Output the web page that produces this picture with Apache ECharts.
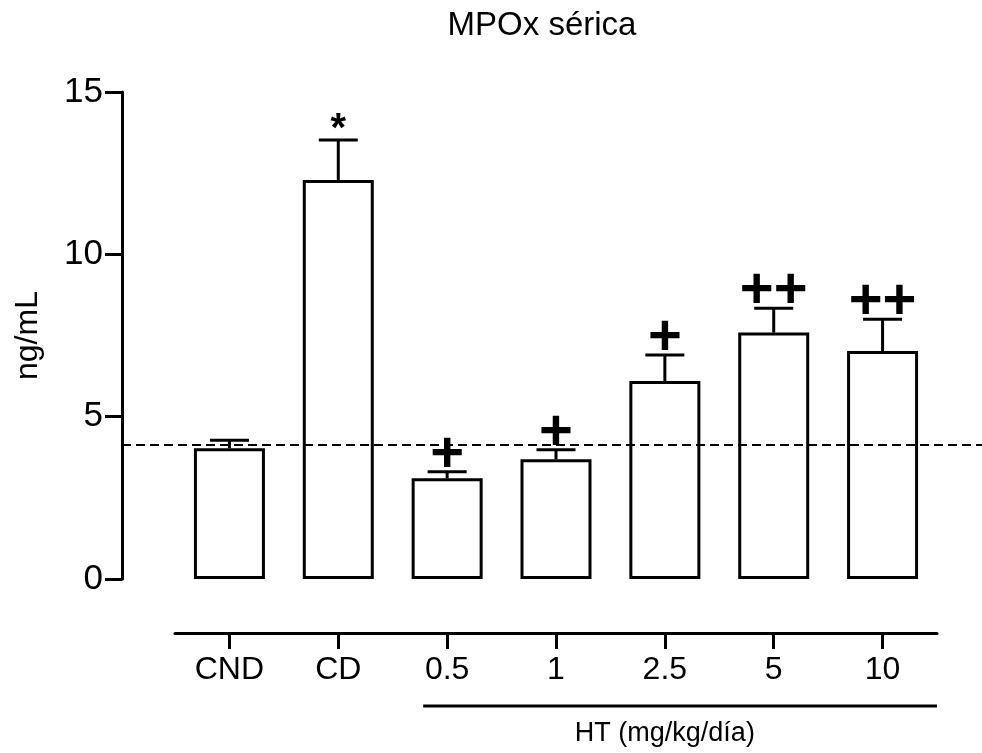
<!DOCTYPE html>
<html>
<head>
<meta charset="utf-8">
<title>MPOx sérica</title>
<script src="https://cdn.jsdelivr.net/npm/echarts@6/dist/echarts.min.js"></script>
<style>
  html, body { margin: 0; padding: 0; background: #fff; }
  #chart { width: 982px; height: 753px; }
</style>
</head>
<body>
<div id="chart"></div>
<script>
// Serum MPOx per group (mean and SEM, ng/mL)
const categories = ['CND', 'CD', '0.5', '1', '2.5', '5', '10'];
const means = [4.03, 12.29, 3.10, 3.69, 6.10, 7.59, 7.02];
const sems = [0.24, 1.23, 0.20, 0.29, 0.80, 0.75, 0.98];
const marks = ['', '*', '+', '+', '+', '++', '++'];
const referenceLevel = 4.13;
const yTicks = { min: 0, max: 15, interval: 5 };
const groups = [{ label: 'HT (mg/kg/día)', from: 2, to: 6 }];

const FONT = '"Liberation Sans", Arial, Helvetica, sans-serif';
const INK = '#000';

const chart = echarts.init(document.getElementById('chart'), null, { renderer: 'canvas' });

const errorData = means.map((m, i) => [i, m, sems[i]]);

chart.setOption({
  animation: false,
  backgroundColor: '#fff',
  title: {
    text: 'MPOx sérica',
    left: 537,
    textAlign: 'center',
    top: 4,
    textStyle: { fontFamily: FONT, fontSize: 33, fontWeight: 'normal', color: INK }
  },
  grid: [
    { left: 175, right: 45, top: 92, bottom: 174 },
    { left: 122, right: 0, top: 92, bottom: 174 }
  ],
  xAxis: [
    {
      type: 'category',
      gridIndex: 0,
      data: categories,
      offset: 54,
      axisLine: { show: true, onZero: false, lineStyle: { color: INK, width: 3 } },
      axisTick: { show: true, interval: 0, alignWithLabel: true, inside: false, length: 16,
        lineStyle: { color: INK, width: 3 } },
      axisLabel: { color: INK, fontFamily: FONT, fontSize: 32, margin: 21, interval: 0 },
      splitLine: { show: false }
    },
    { type: 'value', gridIndex: 1, min: 0, max: 1, show: false }
  ],
  yAxis: [
    {
      type: 'value',
      gridIndex: 0,
      min: yTicks.min,
      max: yTicks.max,
      interval: yTicks.interval,
      offset: 53,
      name: 'ng/mL',
      nameLocation: 'middle',
      nameGap: 78,
      nameTextStyle: { color: INK, fontFamily: FONT, fontSize: 32 },
      axisLine: { show: true, lineStyle: { color: INK, width: 3 } },
      axisTick: { show: true, length: 17, lineStyle: { color: INK, width: 3 } },
      axisLabel: { color: INK, fontFamily: FONT, fontSize: 35, margin: 19 },
      splitLine: { show: false }
    },
    { type: 'value', gridIndex: 1, min: yTicks.min, max: yTicks.max, show: false }
  ],
  series: [
    {
      type: 'bar',
      xAxisIndex: 0,
      yAxisIndex: 0,
      data: means,
      barWidth: 71,
      itemStyle: { color: '#fff', borderColor: INK, borderWidth: 3 },
      z: 2
    },
    {
      // upper SEM whiskers with significance marks
      type: 'custom',
      xAxisIndex: 0,
      yAxisIndex: 0,
      data: errorData,
      clip: false,
      z: 3,
      renderItem: function (params, api) {
        const i = api.value(0);
        const m = api.value(1);
        const s = api.value(2);
        const base = api.coord([i, m]);
        const top = api.coord([i, m + s]);
        const half = 19.5;
        const children = [
          { type: 'line', shape: { x1: base[0], y1: base[1], x2: top[0], y2: top[1] },
            style: { stroke: INK, lineWidth: 3 } },
          { type: 'line', shape: { x1: top[0] - half, y1: top[1], x2: top[0] + half, y2: top[1] },
            style: { stroke: INK, lineWidth: 3 } }
        ];
        const mark = marks[params.dataIndex];
        if (mark) {
          const isStar = mark === '*';
          children.push({
            type: 'text',
            style: {
              text: mark,
              x: top[0],
              y: top[1] - (isStar ? 10 : 16),
              align: 'center',
              verticalAlign: 'middle',
              font: (isStar ? 'bold 40px ' : 'bold 58px ') + FONT,
              fill: INK
            }
          });
        }
        return { type: 'group', children: children };
      }
    },
    {
      // group bracket under the dose categories
      type: 'custom',
      xAxisIndex: 0,
      yAxisIndex: 0,
      data: groups.map(g => [g.from, g.to]),
      clip: false,
      silent: true,
      z: 3,
      renderItem: function (params, api) {
        const g = groups[params.dataIndex];
        const band = api.size([1, 0])[0];
        const a = api.coord([g.from, 0]);
        const b = api.coord([g.to, 0]);
        const y = a[1] + 127;
        return {
          type: 'group',
          children: [
            { type: 'line', shape: { x1: a[0] - 0.22 * band, y1: y, x2: b[0] + 0.5 * band, y2: y },
              style: { stroke: INK, lineWidth: 3 } },
            { type: 'text', style: { text: g.label, x: (a[0] + b[0]) / 2, y: y + 28,
              align: 'center', verticalAlign: 'middle', font: '27px ' + FONT, fill: INK } }
          ]
        };
      }
    },
    {
      // dashed reference level across the plot
      type: 'line',
      xAxisIndex: 1,
      yAxisIndex: 1,
      data: [[0, referenceLevel], [1, referenceLevel]],
      symbol: 'none',
      silent: true,
      lineStyle: { color: INK, width: 2, type: [9, 5] },
      z: 5
    }
  ]
});
</script>
</body>
</html>
